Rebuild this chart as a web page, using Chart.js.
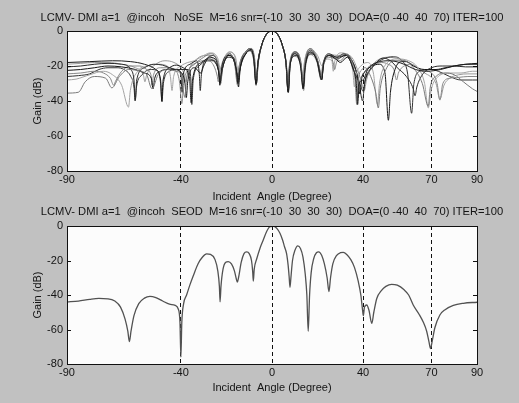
<!DOCTYPE html>
<html><head><meta charset="utf-8">
<script src="https://cdn.jsdelivr.net/npm/chart.js@4"></script>
<style>
html,body{margin:0;padding:0;background:#c1c1c1;}
#wrap{position:relative;width:519px;height:403px;overflow:hidden;background:#c1c1c1;}
canvas{position:absolute;left:0;top:0;}
</style></head><body><div id="wrap"><canvas id="topChart" width="519" height="403"></canvas><canvas id="botChart" width="519" height="403"></canvas></div>
<script>
const xTickValues = [-90,-40,0,40,70,90];
const dashedAngles = [-40,0,40,70];
const yTickValues = [-80,-60,-40,-20,0];
const topTitle = 'LCMV- DMI a=1  @incoh   NoSE  M=16 snr=(-10  30  30  30)  DOA=(0 -40  40  70) ITER=100';
const bottomTitle = 'LCMV- DMI a=1  @incoh  SEOD  M=16 snr=(-10  30  30  30)  DOA=(0 -40  40  70) ITER=100';
const xLabel = 'Incident  Angle (Degree)';
const yLabel = 'Gain (dB)';

// NoSE runs (angle in degrees, gain in dB)
const noseRun1 = [[-90,-18],[-80,-17.5],[-70,-17],[-62,-17.5],[-56,-19],[-51,-22],[-48.9,-28],[-48.4,-40],[-47.8,-28],[-45,-21],[-42,-19.5],[-39,-21],[-36.2,-27],[-35.5,-41],[-34.8,-27],[-31,-18],[-28,-16],[-25,-18],[-23.3,-24],[-22.8,-30],[-22.2,-24],[-19,-14],[-17,-16],[-15.5,-24],[-15,-30],[-14.4,-24],[-12,-14],[-9.5,-11],[-8,-16],[-7,-30],[-6.2,-19],[-4.5,-8],[-2.5,-2],[0,0],[2.5,-2],[4.5,-8],[6.2,-19],[7.1,-35],[7.9,-20],[10,-13],[12.5,-20],[13.7,-33],[14.5,-21],[17,-12],[20,-18],[21.8,-28],[22.6,-19],[25,-14],[28,-16],[30,-18],[33,-15],[35.5,-21],[37,-30],[37.6,-42],[38.3,-30],[40,-28],[42,-22],[46,-18],[52,-17],[58,-19],[63,-22],[68,-23],[74,-22],[80,-20],[86,-19],[90,-19]];
const noseRun2 = [[-90,-35.5],[-85,-35],[-82,-29],[-78,-26],[-73,-27],[-70.3,-32.5],[-67,-26],[-63,-22],[-58,-23],[-55,-25],[-52.7,-33],[-50,-25],[-46,-22],[-42,-23],[-40,-25],[-38.2,-38],[-37.5,-27],[-34,-19],[-30,-15],[-27,-13],[-24,-17],[-23,-24],[-22.5,-30],[-21.8,-22],[-19,-13],[-16.5,-18],[-15.1,-31],[-14.5,-22],[-11.5,-12],[-9,-10],[-7.6,-16],[-6.8,-29],[-6,-18],[-4.5,-8],[-2.5,-2],[0,0],[2.5,-2],[4.5,-8],[6.2,-19],[7,-33],[7.7,-19],[10.5,-12],[12.8,-19],[13.6,-30],[14.4,-19],[16.7,-10],[19.5,-15],[21,-22],[21.6,-27],[22.3,-19],[25.5,-14],[27,-19],[27.5,-22],[28.3,-18],[32,-13],[35,-17],[36.5,-28],[37.2,-42],[37.9,-28],[39.5,-22],[41,-21],[43,-25],[45.5,-35],[46.7,-44],[47.5,-33],[50,-22],[54,-17],[58,-17],[62,-21],[66,-30],[68.6,-43],[69.5,-32],[72,-26],[76,-24],[80,-25],[84,-29],[88,-33],[90,-34.5]];
const noseRun3 = [[-90,-20.5],[-84,-20],[-78,-19],[-72,-18.5],[-66,-19],[-62,-22],[-60.6,-28],[-60,-39.5],[-59.4,-28],[-56,-21],[-52,-19],[-48,-19.5],[-45,-21],[-42,-22],[-40,-24],[-39.5,-35],[-39,-25],[-36,-19],[-33,-17],[-31.9,-25],[-31.5,-34],[-31,-25],[-28,-15],[-26,-14],[-24,-18],[-22.8,-28],[-21.5,-20],[-18.5,-13],[-16.2,-19],[-14.7,-29],[-14,-20],[-11,-11],[-9.5,-10],[-8,-15],[-7,-31],[-6.2,-18],[-4.5,-8],[-2.5,-2],[0,0],[2.5,-2],[4.5,-8],[6.2,-18],[7.2,-35],[8,-19],[10.2,-12],[12.6,-19],[13.8,-32],[14.6,-19],[17,-11],[19.6,-16],[21.8,-27],[22.5,-19],[25,-13],[28.5,-15],[31.5,-13],[34,-16],[36,-23],[38.5,-30],[40.1,-34.5],[41,-28],[44,-21],[48.9,-15.5],[52,-17],[55,-21],[59,-26],[62,-33],[62.8,-37],[63.6,-32],[66,-25],[70,-21],[75,-20],[80,-20],[85,-20.5],[90,-20.5]];
const noseRun4 = [[-90,-28],[-86,-27.5],[-80,-25],[-74,-23],[-70,-25],[-66,-31],[-63,-43.5],[-62.2,-34],[-59,-23],[-55,-20],[-50,-19],[-46,-20],[-44.6,-26],[-43.9,-34],[-43.2,-26],[-40,-20],[-37,-18],[-34,-17],[-30,-14],[-27,-12.5],[-24,-15],[-22.8,-22],[-22.2,-26],[-21.5,-20],[-18.5,-12],[-16,-15],[-14.8,-24],[-14.2,-19],[-11,-12],[-9.8,-11],[-8,-17],[-6.9,-28],[-6.1,-18],[-4.5,-8],[-2.5,-2],[0,0],[2.5,-2],[4.5,-8],[6.3,-19],[7.2,-31],[8,-19],[10,-12.5],[12.5,-18],[13.4,-28],[14.2,-18],[16.5,-10.5],[20,-14],[22,-20],[24,-16],[26.3,-17],[26.9,-23],[27.6,-17],[30.5,-12.5],[33.5,-15],[35.5,-23],[36.2,-32],[37,-25],[39,-20],[42,-18],[44.5,-24],[46.3,-42],[47.2,-30],[50,-19],[55,-16],[60,-17],[64,-21],[67,-30],[68.6,-44],[70,-33],[73,-26],[78,-24],[83,-24],[88,-23],[90,-23]];
const noseRun5 = [[-90,-22.5],[-84,-22],[-78,-21],[-72,-20],[-66,-20.5],[-60,-22],[-56,-24],[-53,-27],[-52.2,-33],[-51.5,-27],[-49,-23],[-46,-22],[-43,-22],[-40.5,-23],[-38.2,-30],[-37.6,-38],[-37,-29],[-34,-21],[-31.3,-24],[-30,-20],[-27.5,-15],[-25,-16],[-23.3,-24],[-22.9,-31],[-22.3,-23],[-19.5,-14],[-17,-15],[-15.2,-26],[-14.7,-32],[-14.1,-23],[-11.5,-13],[-9.2,-10.5],[-7.8,-16],[-6.8,-30],[-6.1,-18],[-4.5,-8],[-2.5,-2],[0,0],[2.5,-2],[4.5,-8],[6.1,-18],[7,-34],[7.8,-19],[10.5,-14],[12.8,-20],[13.7,-31],[14.5,-20],[17.2,-13],[20,-17],[21.9,-27],[22.7,-18],[25.5,-14],[28.5,-15],[32.5,-14],[35.5,-18],[37.5,-26],[38.6,-36],[39.4,-27],[41,-23],[44,-20],[47,-19],[49.6,-24],[51.1,-51],[52,-35],[54,-22],[57,-17.5],[59,-17.5],[62,-20],[67,-22],[72,-22],[76,-21],[80,-20],[85,-19],[90,-18.5]];
const noseRun6 = [[-90,-24.5],[-84,-24],[-78,-23],[-74,-24],[-71,-27],[-69.5,-31],[-68.8,-29],[-66,-23],[-62,-20],[-58,-20],[-55,-22],[-53,-26],[-52.7,-31],[-52,-25],[-49,-21],[-46,-21],[-42,-23],[-40.5,-30],[-39.6,-41.5],[-38.8,-30],[-36,-21],[-33,-18],[-30,-17],[-28,-17],[-25.5,-20],[-24,-26],[-23.6,-29],[-23,-24],[-20,-14],[-18,-14],[-16,-20],[-15.3,-28],[-14.6,-21],[-12,-13],[-10,-11.5],[-8.2,-15],[-7.1,-29],[-6.2,-19],[-4.5,-8],[-2.5,-2],[0,0],[2.5,-2],[4.5,-8],[6.2,-19],[7,-34],[7.7,-21],[9.8,-14.5],[12.5,-19],[13.9,-34],[14.7,-21],[17,-13.5],[19.8,-18],[21.6,-28],[22.4,-21],[24.8,-15],[28,-16],[30,-17],[32.5,-14],[35,-17],[37,-25],[37.8,-38],[38.5,-29],[40,-25],[42,-21],[45,-19],[48,-18],[51,-19],[53.5,-22],[54.7,-28],[55.5,-24],[58,-20],[61,-19],[65,-22],[70,-24],[72.5,-30],[73.7,-39.5],[75,-30],[78,-27],[82,-26.5],[86,-26],[90,-26]];
const noseRun7 = [[-90,-26],[-85,-25.5],[-80,-24.5],[-76,-22],[-72,-21],[-68,-21],[-65,-22],[-62,-26],[-60.6,-32],[-60.1,-40],[-59.5,-32],[-57,-25],[-53,-22],[-50,-23],[-48.9,-30],[-48.3,-40.5],[-47.7,-30],[-45,-23],[-42,-22],[-40,-22],[-36.5,-22],[-35.6,-28],[-35.2,-42],[-34.6,-28],[-32,-20],[-28.5,-17],[-25.5,-17],[-23.4,-23],[-22.7,-29],[-22,-22],[-19,-15],[-17,-16],[-15.3,-25],[-14.8,-30],[-14.2,-22],[-11.5,-13],[-9.7,-11],[-8.1,-15],[-7,-30],[-6.2,-18],[-4.5,-8],[-2.5,-2],[0,0],[2.5,-2],[4.5,-8],[6.1,-18],[7.1,-35],[7.9,-20],[10.3,-13],[12.6,-19],[13.6,-33],[14.4,-20],[16.8,-12],[19.5,-16],[21.8,-28],[22.6,-19],[25.2,-14],[28.5,-16],[32.8,-13.5],[35.5,-18],[38,-28],[39.8,-40],[40.6,-30],[43,-22],[48,-16.5],[53.3,-14.7],[57,-17],[59.5,-24],[61.3,-47],[62.3,-30],[65,-23],[69.4,-22],[73,-23],[78,-26],[83,-28],[88,-28],[90,-28]];
const noseRun8 = [[-90,-19],[-84,-18.5],[-78,-18],[-72,-18],[-66,-19],[-60,-21],[-56.5,-25],[-55.8,-29],[-55,-25],[-51,-19],[-47,-17],[-43,-18],[-40,-21],[-38.5,-25],[-37.8,-29],[-37,-24],[-33,-16],[-29,-14],[-26.5,-15],[-24,-20],[-22.6,-27],[-21.8,-20],[-18.8,-12],[-16.5,-14],[-15,-24],[-14.4,-27],[-13.8,-20],[-11,-12],[-9.4,-10],[-7.9,-15],[-6.9,-30],[-6.1,-18],[-4.5,-8],[-2.5,-2],[0,0],[2.5,-2],[4.5,-8],[6.2,-18],[7,-32],[7.8,-18],[10.1,-11.8],[12.6,-17],[13.5,-29],[14.3,-18],[16.7,-10],[19.5,-14],[21.7,-25],[22.5,-18],[25.5,-13.5],[29,-14],[32,-13.5],[35,-15],[37.5,-22],[39,-28],[40.5,-34],[41.5,-28],[43,-22],[46,-17],[51,-15],[56,-16],[60,-18],[64,-21],[67,-24],[69.5,-26],[72,-30],[73.7,-39],[75.5,-31],[78,-27],[82,-25],[86,-24.5],[90,-24.5]];
const noseColors = ['#1c1c1c','#7a7a7a','#2a2a2a','#a4a4a4','#151515','#888888','#333333','#9a9a9a'];

// SEOD run
const seodRun = [[-90,-44],[-85,-43.5],[-80,-42.5],[-76,-42],[-72,-42.2],[-69,-43.5],[-66.5,-47],[-64.5,-54],[-63.3,-61],[-62.6,-67],[-61.9,-61],[-60.6,-52],[-58.5,-45],[-56,-41.8],[-53.6,-40.8],[-51,-41.5],[-48,-43.5],[-45,-45.3],[-42.5,-46],[-41.2,-48],[-40.4,-56],[-40,-76],[-39.6,-56],[-38.8,-45],[-37.5,-40],[-36,-34],[-34.6,-29],[-32.5,-22],[-30.5,-18],[-28.7,-16.2],[-27,-16.5],[-25,-19.5],[-23.8,-26],[-23.1,-35],[-22.8,-44],[-22.4,-35],[-21.5,-25],[-20.3,-21],[-19.2,-20.6],[-17.8,-22],[-16.5,-26],[-15.6,-31],[-15.2,-32.5],[-14.7,-30],[-13.5,-21],[-12.3,-16],[-11.1,-15],[-10,-16],[-9,-20],[-8.5,-26],[-8.2,-32],[-7.8,-25],[-6.7,-19],[-5.3,-13],[-3.8,-8],[-2.3,-3],[-0.8,-0.3],[0.8,-0.2],[2.2,-1.5],[3.5,-4.2],[4.6,-8],[5.5,-12],[6.4,-16],[7.1,-23],[7.5,-29],[7.9,-35.5],[8.3,-30],[9,-20],[10.1,-14],[11.3,-11.5],[12.5,-13],[13.6,-18],[14.6,-28],[15.3,-40],[15.9,-61],[16.5,-40],[17.2,-27],[18.3,-19],[19.5,-15.5],[20.5,-15],[21.8,-17],[23,-22],[24.2,-30],[25,-38],[25.7,-30],[26.7,-22],[28.4,-17],[30,-15.5],[31.3,-15.3],[32.8,-16.5],[34.6,-19.5],[36.2,-24],[37.9,-32.3],[39,-40],[39.7,-48],[40.1,-52],[40.6,-47],[41.6,-45.8],[42.6,-49],[43.8,-56.5],[44.7,-50],[46,-42],[48,-37.5],[50,-35],[52.5,-33.8],[55,-34.3],[58,-37],[60,-40],[62,-45.8],[64.5,-51],[66.5,-56],[67.9,-61],[68.9,-67],[69.6,-71],[70.3,-67],[71.5,-59],[73.7,-51.6],[76,-48.5],[79.6,-46],[84,-44.8],[90,-44.2]];

const FONT = '"Liberation Sans", Arial, sans-serif';
const TEXT = '#141414';

const framePlugin = {
  id: 'frame',
  beforeDraw(chart) {
    const {ctx, chartArea: a} = chart;
    ctx.save();
    ctx.fillStyle = '#fcfcfc';
    ctx.fillRect(a.left, a.top, a.right - a.left, a.bottom - a.top);
    ctx.restore();
  },
  afterDraw(chart, args, opts) {
    const {ctx, chartArea: a} = chart;
    const ys = chart.scales.y;
    ctx.save();
    ctx.strokeStyle = '#111';
    ctx.lineWidth = 1;
    ctx.setLineDash([]);
    ctx.strokeRect(Math.round(a.left) + 0.5, Math.round(a.top) + 0.5, Math.round(a.right - a.left), Math.round(a.bottom - a.top));
    ctx.beginPath();
    yTickValues.forEach(v => {
      const py = Math.round(ys.getPixelForValue(v)) + 0.5;
      ctx.moveTo(a.left, py); ctx.lineTo(a.left + 4, py);
      ctx.moveTo(a.right, py); ctx.lineTo(a.right - 4, py);
    });
    ctx.stroke();
    ctx.font = '11.2px ' + FONT;
    ctx.fillStyle = TEXT;
    ctx.textAlign = 'center';
    ctx.textBaseline = 'middle';
    ctx.fillText(opts.text, (a.left + a.right) / 2, a.top - opts.offset);
    ctx.restore();
  }
};

function makeChart(id, datasets, heading, headOffset, padTop, padBottom, xHeight, xTitlePad) {
  return new Chart(document.getElementById(id), {
    type: 'line',
    data: {datasets},
    plugins: [framePlugin],
    options: {
      responsive: false,
      animation: false,
      devicePixelRatio: 1,
      layout: {padding: {left: 0, right: 42, top: padTop, bottom: padBottom}},
      plugins: {legend: {display: false}, tooltip: {enabled: false}, frame: {text: heading, offset: headOffset}},
      elements: {point: {radius: 0}, line: {borderWidth: 1, cubicInterpolationMode: 'monotone'}},
      scales: {
        x: {
          type: 'linear', min: -90, max: 90,
          afterBuildTicks: s => { s.ticks = xTickValues.map(v => ({value: v})); },
          afterFit: s => { s.height = xHeight; },
          grid: {
            drawTicks: false, lineWidth: 1,
            color: c => (c.tick && dashedAngles.includes(c.tick.value)) ? '#111' : 'rgba(0,0,0,0)',
            borderDash: [4, 3]
          },
          border: {display: false, dash: [4, 3]},
          ticks: {autoSkip: false, maxRotation: 0, padding: 2, color: TEXT, font: {family: FONT, size: 11}},
          title: {display: true, text: xLabel, color: TEXT, font: {family: FONT, size: 11}, padding: {top: 0, bottom: xTitlePad}}
        },
        y: {
          type: 'linear', min: -80, max: 0,
          afterBuildTicks: s => { s.ticks = yTickValues.map(v => ({value: v})); },
          afterFit: s => { s.width = 67; },
          grid: {display: false, drawTicks: false},
          border: {display: false},
          ticks: {padding: 4, color: TEXT, font: {family: FONT, size: 11}},
          title: {display: true, text: yLabel, color: TEXT, font: {family: FONT, size: 11}, padding: {top: 31, bottom: 0}}
        }
      }
    }
  });
}

const toXY = arr => arr.map(p => ({x: p[0], y: p[1]}));
const noseRuns = [noseRun1, noseRun2, noseRun3, noseRun4, noseRun5, noseRun6, noseRun7, noseRun8];
const topSets = noseRuns.map((r, i) => ({data: toXY(r), borderColor: noseColors[i], borderWidth: 1, fill: false}));
const botSets = [{data: toXY(seodRun), borderColor: '#525252', borderWidth: 1.3, fill: false}];

makeChart('topChart', topSets, topTitle, 13, 31, 198, 34, 1);
makeChart('botChart', botSets, bottomTitle, 14.3, 226, 7, 32, 1.1);
</script></body></html>
